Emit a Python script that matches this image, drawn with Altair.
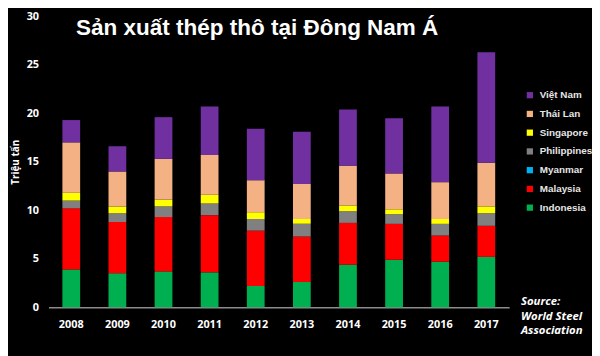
import altair as alt
import pandas as pd

years = ["2008", "2009", "2010", "2011", "2012", "2013", "2014", "2015", "2016", "2017"]
countries = ["Indonesia", "Malaysia", "Myanmar", "Philippines", "Singapore", "Thái Lan", "Việt Nam"]
colors = ["#00B050", "#FF0000", "#00B0F0", "#808080", "#FFFF00", "#F4B183", "#7030A0"]

indonesia   = [3.9, 3.5, 3.7, 3.6, 2.2, 2.6, 4.4, 4.9, 4.7, 5.2]
malaysia    = [6.3, 5.3, 5.6, 5.9, 5.7, 4.7, 4.3, 3.7, 2.7, 3.2]
myanmar     = [0.0, 0.0, 0.0, 0.0, 0.0, 0.0, 0.0, 0.0, 0.0, 0.0]
philippines = [0.8, 0.9, 1.1, 1.2, 1.2, 1.3, 1.2, 1.0, 1.2, 1.3]
singapore   = [0.8, 0.7, 0.7, 0.9, 0.7, 0.5, 0.6, 0.5, 0.5, 0.7]
thailand    = [5.2, 3.6, 4.2, 4.1, 3.3, 3.6, 4.1, 3.7, 3.8, 4.5]
vietnam     = [2.3, 2.6, 4.3, 5.0, 5.3, 5.4, 5.8, 5.7, 7.8, 11.4]

series = [indonesia, malaysia, myanmar, philippines, singapore, thailand, vietnam]
rows = []
for ci, (c, vals) in enumerate(zip(countries, series)):
    for y, v in zip(years, vals):
        rows.append({"year": y, "country": c, "value": v, "idx": ci})
df = pd.DataFrame(rows)

FONT = "Liberation Sans"

bars = alt.Chart(df).mark_bar(size=18).encode(
    x=alt.X("year:N", sort=years, title=None,
            scale=alt.Scale(paddingInner=0.61, paddingOuter=0.3),
            axis=alt.Axis(labelAngle=0, labelColor="white", labelFont="Open Sans",
                          labelFontWeight="bold", labelFontSize=11, ticks=False,
                          labelPadding=11, domainColor="#8c8c8c", domainWidth=1.5)),
    y=alt.Y("value:Q", stack="zero", title="Triệu tấn",
            scale=alt.Scale(domain=[0, 30], nice=False),
            axis=alt.Axis(values=[0, 5, 10, 15, 20, 25, 30], grid=False, domain=False,
                          ticks=False, labelPadding=10, labelColor="white",
                          labelFont="Open Sans", labelFontWeight="bold", labelFontSize=11,
                          titleColor="white", titleFont="Open Sans", titleFontSize=10,
                          titleFontWeight="bold", titlePadding=6)),
    color=alt.Color("country:N", sort=countries[::-1],
                    scale=alt.Scale(domain=countries[::-1], range=colors[::-1]),
                    legend=alt.Legend(title=None, orient="none", legendX=483, legendY=75,
                                      symbolType="square", symbolSize=40,
                                      symbolStrokeWidth=0, labelColor="#e6e6e6",
                                      labelFont=FONT, labelFontWeight="bold",
                                      labelFontSize=10, rowPadding=9, labelOffset=5)),
    order=alt.Order("idx:Q", sort="ascending"),
)

title_df = pd.DataFrame({"t": ["Sản xuất thép thô tại Đông Nam Á"]})
title = alt.Chart(title_df).mark_text(
    align="left", baseline="alphabetic", font=FONT, fontSize=22.8, fontWeight="bold",
    color="white"
).encode(text="t:N", x=alt.value(28), y=alt.value(19))

src_df = pd.DataFrame({"t": ["Source:\nWorld Steel\nAssociation"]})
source = alt.Chart(src_df).mark_text(
    align="left", baseline="alphabetic", font="Open Sans", fontSize=11.5,
    fontWeight="bold", fontStyle="italic", color="white", lineBreak="\n", lineHeight=14.5
).encode(text="t:N", x=alt.value(479), y=alt.value(293))

chart = alt.layer(bars, title, source).properties(
    width=467, height=295,
    background="black",
    padding={"left": 41, "top": 6, "right": 84, "bottom": 47},
    autosize=alt.AutoSizeParams(type="none"),
).configure_view(stroke=None)

chart.save("out.html", embed_options={"renderer": "svg", "actions": False})
